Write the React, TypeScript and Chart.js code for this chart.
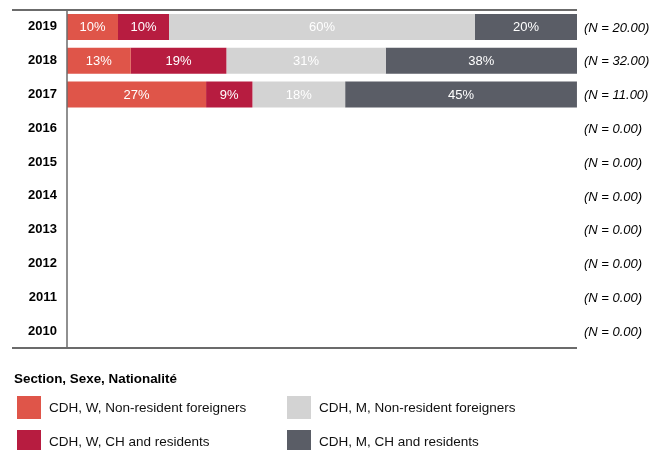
import React, { useEffect, useRef } from "react";
import { Chart, registerables } from "chart.js";
Chart.register(...registerables);

const years = ["2019", "2018", "2017", "2016", "2015", "2014", "2013", "2012", "2011", "2010"];
const nValues = [20, 32, 11, 0, 0, 0, 0, 0, 0, 0];
const seriesNames = [
  "CDH, W, Non-resident foreigners",
  "CDH, W, CH and residents",
  "CDH, M, Non-resident foreigners",
  "CDH, M, CH and residents",
];
const wNonRes = [10, 12.5, 27.27, 0, 0, 0, 0, 0, 0, 0];
const wRes = [10, 18.75, 9.09, 0, 0, 0, 0, 0, 0, 0];
const mNonRes = [60, 31.25, 18.18, 0, 0, 0, 0, 0, 0, 0];
const mRes = [20, 37.5, 45.45, 0, 0, 0, 0, 0, 0, 0];
const colors = ["#DF5549", "#B71C40", "#D3D3D3", "#5A5D66"];
const legendTitle = "Section, Sexe, Nationalité";

const FONT = "'Liberation Sans', Arial, sans-serif";

export default function App() {
  const ref = useRef<HTMLCanvasElement>(null);
  useEffect(() => {
    document.body.style.margin = "0";
    const extras = {
      id: "extras",
      afterDatasetsDraw(chart: any) {
        const ctx = chart.ctx;
        const area = chart.chartArea;
        ctx.save();
        // bar labels
        ctx.font = `13px ${FONT}`;
        ctx.fillStyle = "#ffffff";
        ctx.textAlign = "center";
        ctx.textBaseline = "middle";
        chart.data.datasets.forEach((ds: any, di: number) => {
          const meta = chart.getDatasetMeta(di);
          meta.data.forEach((bar: any, i: number) => {
            const v = ds.data[i];
            if (!v) return;
            const cx = (bar.x + bar.base) / 2;
            ctx.fillText(Math.round(v) + "%", cx, bar.y + 1);
          });
        });
        // N labels
        const yScale = chart.scales.y;
        ctx.font = `italic 13px ${FONT}`;
        ctx.fillStyle = "#000000";
        ctx.textAlign = "left";
        nValues.forEach((n, i) => {
          ctx.fillText(`(N = ${n.toFixed(2)})`, 584, yScale.getPixelForValue(i) + 1);
        });
        // top/bottom lines
        ctx.strokeStyle = "#6b6b6b";
        ctx.lineWidth = 2;
        ctx.beginPath();
        ctx.moveTo(12, area.top);
        ctx.lineTo(area.right, area.top);
        ctx.moveTo(12, area.bottom);
        ctx.lineTo(area.right, area.bottom);
        ctx.stroke();
        ctx.lineWidth = 1.5;
        ctx.beginPath();
        ctx.moveTo(area.left, area.top);
        ctx.lineTo(area.left, area.bottom);
        ctx.stroke();
        // legend
        ctx.font = `bold 13.4px ${FONT}`;
        ctx.fillStyle = "#000";
        ctx.textBaseline = "alphabetic";
        ctx.fillText(legendTitle, 14, 383);
        ctx.font = `13.5px ${FONT}`;
        const pos = [
          [17, 396],
          [17, 430],
          [287, 396],
          [287, 430],
        ];
        seriesNames.forEach((name, i) => {
          const [x, y] = pos[i];
          ctx.fillStyle = colors[i];
          ctx.fillRect(x, y, 24, 23);
          ctx.fillStyle = "#111";
          ctx.textBaseline = "middle";
          ctx.fillText(name, x + 32, y + 12);
        });
        ctx.restore();
      },
    };
    const data = [wNonRes, wRes, mNonRes, mRes];
    const chart = new Chart(ref.current!, {
      type: "bar",
      data: {
        labels: years,
        datasets: seriesNames.map((name, i) => ({
          label: name,
          data: data[i],
          backgroundColor: colors[i],
          borderWidth: 0,
          categoryPercentage: 0.77,
          barPercentage: 1,
        })),
      },
      options: {
        indexAxis: "y",
        animation: false,
        responsive: false,
        maintainAspectRatio: false,
        layout: { padding: { left: 0, right: 88, top: 10, bottom: 102 } },
        plugins: { legend: { display: false }, tooltip: { enabled: false } },
        scales: {
          x: { display: false, stacked: true, min: 0, max: 100 },
          y: {
            stacked: true,
            grid: { display: false, drawTicks: false },
            border: { display: false },
            ticks: {
              color: "#000",
              font: { family: FONT, size: 13, weight: "bold" },
              padding: 10,
            },
            afterFit(scale: any) {
              scale.width = 67;
              scale.paddingTop = 0;
              scale.paddingBottom = 0;
            },
          },
        },
      },
      plugins: [extras],
    });
    return () => chart.destroy();
  }, []);
  return (
    <div style={{ position: "absolute", left: 0, top: 0, width: 665, height: 450 }}>
      <canvas ref={ref} width={665} height={450} style={{ width: 665, height: 450 }} />
    </div>
  );
}
